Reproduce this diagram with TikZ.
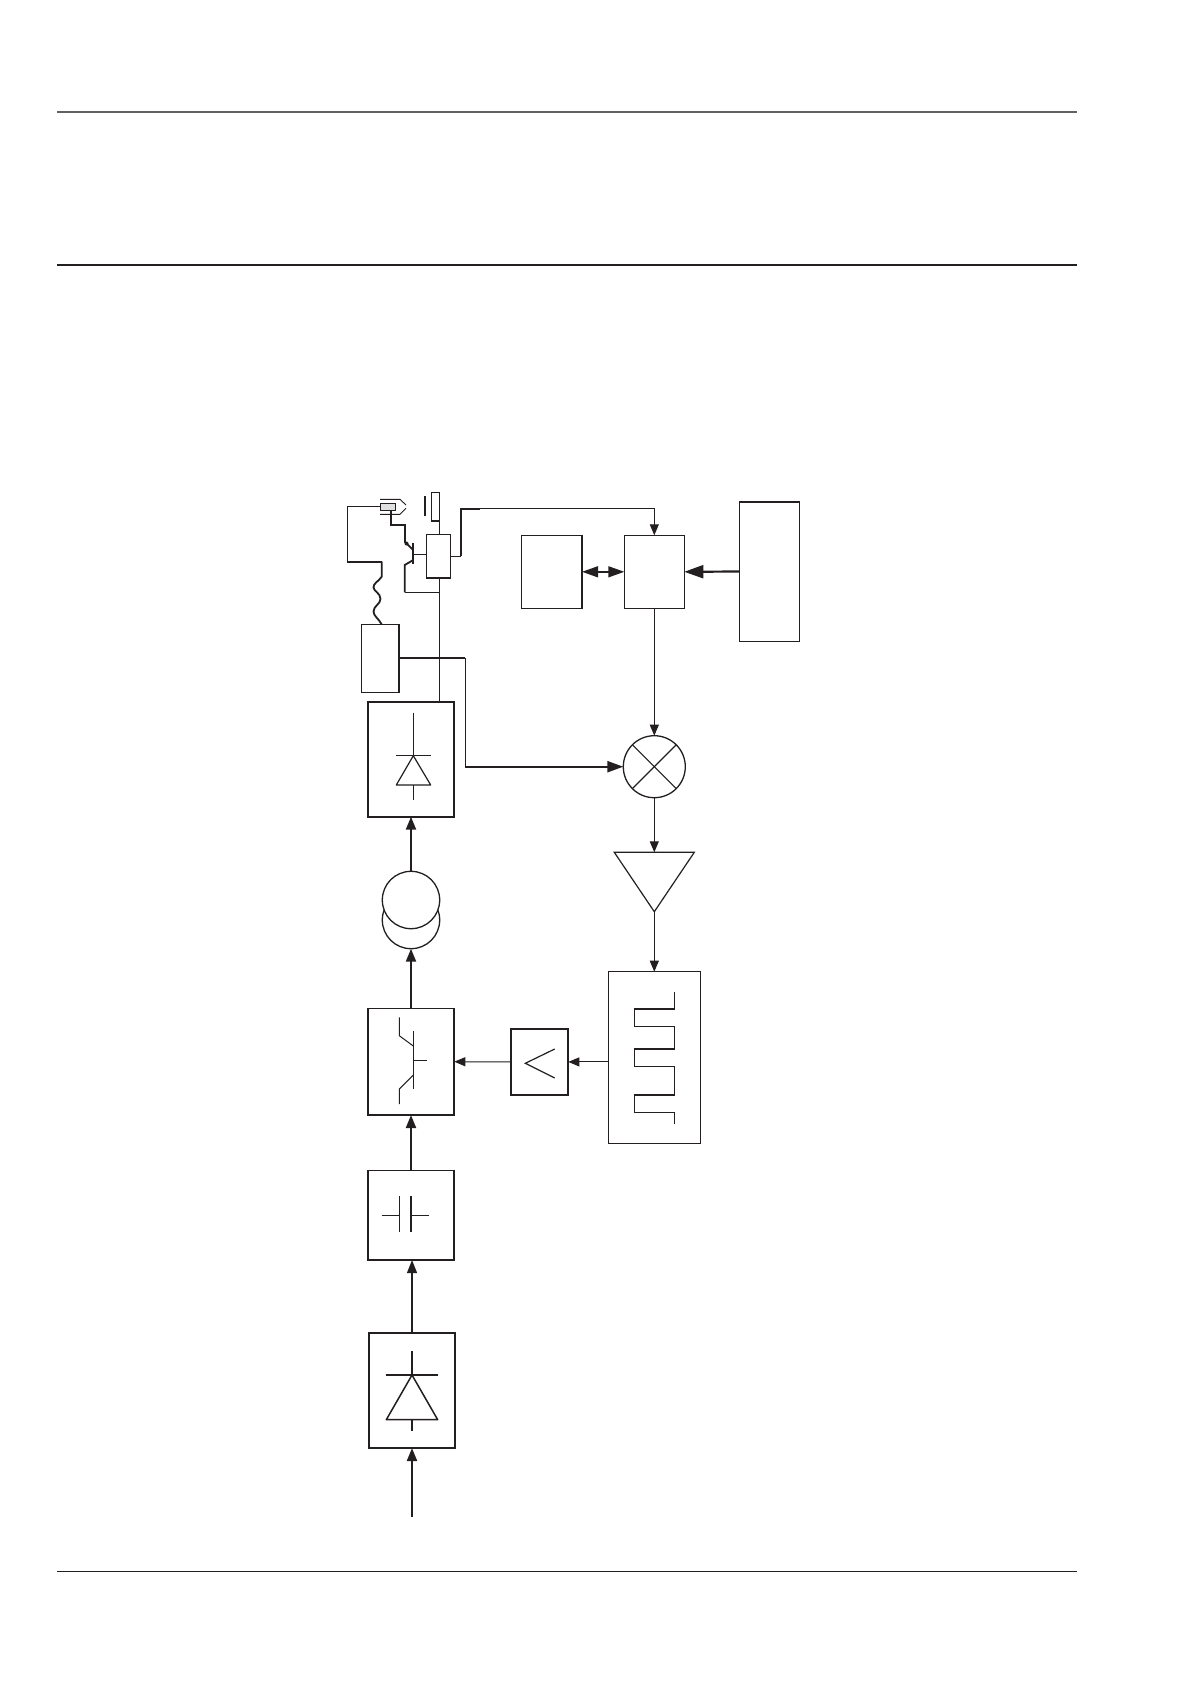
\documentclass[tikz,border=0pt]{standalone}
\usetikzlibrary{arrows.meta}
\definecolor{ink}{HTML}{231F20}
\tikzset{
  blk/.style={draw=ink,fill=white,rectangle,inner sep=0pt,outer sep=0pt,line width=#1},
  blk/.default=1.2pt,
  ring/.style={draw=ink,fill=white,circle,inner sep=0pt,outer sep=0pt,line width=1.3pt},
  sym/.style={draw=ink,line width=1pt},
  symb/.style={draw=ink,line width=1.5pt},
  thin line/.style={draw=ink,line width=1pt},
  mid line/.style={draw=ink,line width=1.8pt},
  heavy line/.style={draw=ink,line width=2.2pt},
  tipS/.style={-{Triangle[length=11pt,width=9pt,color=ink]}},
  tipM/.style={-{Triangle[length=13pt,width=10pt,color=ink]}},
  tipL/.style={-{Triangle[length=16pt,width=11pt,color=ink]}},
  tipXL/.style={-{Triangle[length=19pt,width=13pt,color=ink]}}
}
\begin{document}
\begin{tikzpicture}[x=1pt,y=-1pt]
\useasboundingbox (0,0) rectangle (1191,1684);
% page rules
\draw[draw=black!62,line width=2pt] (57,112) -- (1077,112);
\draw[draw=ink,line width=2.4pt] (57,264.7) -- (1077,264.7);
\draw[draw=ink,line width=1.3pt] (57,1571.5) -- (1077,1571.5);

% blocks
\node[blk=1.1pt,minimum width=60.7pt,minimum height=73pt] (A) at (551.7,571.8) {};
\node[blk=1.1pt,minimum width=60pt,minimum height=73pt] (B) at (654.3,571.8) {};
\node[blk=1.1pt,minimum width=60pt,minimum height=139.6pt] (C) at (769.3,571.5) {};
\node[blk=1.6pt,minimum width=37.3pt,minimum height=68pt] (D) at (380.3,658.3) {};
\node[blk=1.7pt,minimum width=86.6pt,minimum height=114.4pt] (E) at (411,759.5) {};
\node[blk=1.7pt,minimum width=86.6pt,minimum height=106.7pt] (F) at (411,1061.7) {};
\node[blk=1.7pt,minimum width=57.6pt,minimum height=66.3pt] (G) at (539.5,1061.9) {};
\node[blk=1.3pt,minimum width=92pt,minimum height=172pt] (H) at (654.3,1057.7) {};
\node[blk=1.7pt,minimum width=86.6pt,minimum height=89.7pt] (I) at (411,1215.2) {};
\node[blk=1.7pt,minimum width=86.6pt,minimum height=115.3pt] (J) at (412,1390.4) {};
\node[blk=1pt,minimum width=23.3pt,minimum height=44pt] (R) at (438.4,556) {};
\node[ring,minimum size=62pt] (X) at (654.3,766.7) {};
\node[ring,minimum size=57.4pt] (T2) at (411,920) {};
\node[ring,minimum size=57.4pt] (T1) at (411,900) {};

% heavier edges of the blocks
\draw[mid line] (A.north east) -- (A.south east);
\draw[heavy line] (C.north west) -- (C.north east);
\draw[mid line] (R.south west) -- (R.south east);

% mixer cross
\draw[sym,line width=1.1pt] (X.45) -- (X.225);
\draw[sym,line width=1.1pt] (X.135) -- (X.315);

% amplifier triangle
\coordinate (triL) at (614.3,852.3);
\coordinate (triR) at (694.3,852.3);
\coordinate (triTop) at (654.3,852.3);
\coordinate (triTip) at (654.3,911.7);
\draw[sym,line width=1.2pt,line join=miter] (triL) -- (triR) -- (triTip) -- cycle;

% rectifier symbol in E
\draw[sym] (413.3,712.7) -- (413.3,755.7);
\draw[sym] (396,755.7) -- (431.3,755.7);
\draw[sym,line width=1.2pt,line join=round] (413.3,755.7) -- (396.3,785) -- (430.7,785) -- cycle;
\draw[sym] (413.3,785) -- (413.3,800);

% transistor symbol in F
\draw[sym] (413.3,1031) -- (413.3,1089.3);
\draw[sym] (413.3,1060) -- (426.7,1060);
\draw[sym] (399.3,1017.3) -- (399.3,1035.7) -- (413.3,1046);
\draw[sym] (413.3,1075) -- (399.3,1089) -- (399.3,1104);

% comparator symbol in G
\draw[sym,line width=1.2pt] (554.7,1049) -- (525.3,1063.3) -- (554.7,1078);

% waveform in H
\draw[sym,line join=miter] (674.3,991.7) -- (674.3,1009) -- (634.3,1009) -- (634.3,1026.7) -- (674.3,1026.7)
  -- (674.3,1049) -- (634.3,1049) -- (634.3,1066.3) -- (674.3,1066.3)
  -- (674.3,1095) -- (634.3,1095) -- (634.3,1112.3) -- (674.3,1112.3) -- (674.3,1124.3);
\draw[sym,line width=1.3pt] (634.3,1009) -- (674.3,1009) (634.3,1049) -- (674.3,1049) (634.3,1095) -- (674.3,1095);

% capacitor symbol in I
\draw[sym] (381.7,1215.3) -- (399.3,1215.3);
\draw[sym] (399.3,1196) -- (399.3,1231.7);
\draw[sym,line width=1.4pt] (411,1196) -- (411,1231.7);
\draw[sym] (411,1215.3) -- (428.7,1215.3);

% rectifier symbol in J
\draw[symb] (412,1351) -- (412,1375);
\draw[symb] (385.7,1375) -- (438.3,1375);
\draw[symb,line join=round] (412,1375) -- (386.3,1419.7) -- (437.7,1419.7) -- cycle;
\draw[symb] (412,1419.7) -- (412,1430.7);

% signal chain
\coordinate (inp) at (412,1516.7);
\draw[heavy line,tipM] (inp) -- (J.south);
\draw[draw=ink,line width=1.3pt,tipM] (J.north) -- (J.north |- I.south);
\draw[heavy line,tipM] (I.north) -- (F.south);
\draw[heavy line,tipM] (F.north) -- (T2.south);
\draw[heavy line,tipM] (T1.north) -- (E.south);
\draw[thin line,tipS] (G.west) -- (F.east);
\draw[thin line,tipS] (H.west |- G.east) -- (G.east);
\draw[thin line,tipS] (triTip) -- (H.north);
\draw[thin line,tipS] (X.south) -- (triTop);
\draw[thin line,tipS] (B.south) -- (X.north);
\coordinate (dBend) at (465.3,658.3);
\draw[draw=ink,line width=2.2pt] (D.east) -- (dBend);
\draw[thin line] (dBend) -- (dBend |- X.west);
\draw[draw=ink,line width=2.2pt,tipL] (dBend |- X.west) -- (X.west);
\draw[heavy line,tipXL] (C.west) -- (B.east);
\draw[draw=ink,line width=1.5pt,{Triangle[length=16pt,width=11pt,color=ink]}-{Triangle[length=16pt,width=11pt,color=ink]}] (A.east) -- (B.west);

% relay output to B
\coordinate (rOut) at (460.7,556);
\coordinate (rTop) at (460.7,508.7);
\draw[thin line] (R.east) -- (rOut);
\draw[mid line] (rOut) -- (rTop) -- (480,508.7);
\draw[thin line,tipS] (480,508.7) -| (B.north);

% rail through the relay
\coordinate (railTop) at (439.5,578);
\coordinate (railMid) at (439.5,592.3);
\coordinate (barLow) at (439.5,534);
\draw[thin line] (railTop) -- (railTop |- E.north);

% top contact
\coordinate (barA) at (431,492.7);
\coordinate (barB) at (439.5,520.7);
\draw[thin line,fill=white] (barA) rectangle (barB);
\draw[mid line] (439.5,492.7) -- (barB) -- (431,520.7);
\draw[thin line] (barB) -- (barLow);
\draw[draw=ink,line width=1.7pt] (425,496) -- (425,516);

% sensor
\node[draw=ink,fill=black!12,line width=1.2pt,rectangle,inner sep=0pt,outer sep=0pt,minimum width=14.6pt,minimum height=7pt] (S) at (388,506.8) {};
\draw[draw=ink,line width=.9pt,line join=miter] (380,499.3) -- (400,499.3) -- (406,505);
\draw[draw=ink,line width=.9pt,line join=miter] (406,508.3) -- (400,514.3) -- (380,514.3);

% sensor wire to transistor
\coordinate (sA) at (390.7,524.7);
\coordinate (sB) at (404.7,524.7);
\coordinate (sC) at (404.7,541.7);
\coordinate (sD) at (413.3,550);
\draw[heavy line,line join=miter] (S.south -| sA) -- (sA) -- (sB) -- (sC);
\draw[mid line] (sC) -- (sD);
\fill[ink] (406.5,543.5) circle (2pt);
\draw[mid line] (413.3,543.3) -- (413.3,564);
\draw[sym] (413.3,554.3) -- (R.west |- 0,554.3);
\coordinate (qE) at (404.7,565);
\draw[mid line,line join=miter] (413.3,560) -- (qE) -- (404.7,592.3);
\draw[thin line] (404.7,592.3) -- (railMid);

% sensor wire to block D
\coordinate (wA) at (347.3,506.8);
\coordinate (wB) at (347.3,561.7);
\coordinate (wC) at (381.7,561.7);
\draw[thin line] (S.west) -- (wA) -- (wB);
\draw[mid line,line join=miter] (wB) -- (wC);
\draw[mid line] (wC) -- (381.7,576.7)
  .. controls (378,582) and (373.5,583) .. (373.5,587.5)
  .. controls (373.5,591) and (380.5,593) .. (380.5,599)
  .. controls (380.5,604) and (373.5,606) .. (373.5,611.5)
  .. controls (373.5,616) and (379,619) .. (381.7,624.3);
\end{tikzpicture}
\end{document}
